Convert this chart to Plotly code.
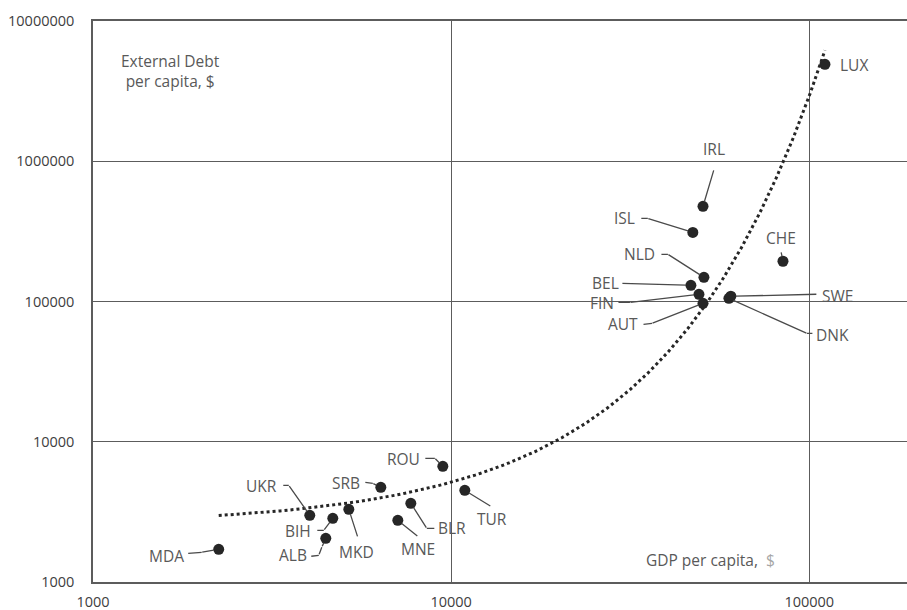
import numpy as np
import plotly.graph_objects as go

# ---------------- data ----------------
countries = ["LUX", "IRL", "ISL", "NLD", "CHE", "BEL", "FIN", "AUT", "SWE", "DNK",
             "ROU", "SRB", "UKR", "BIH", "ALB", "MKD", "MNE", "BLR", "TUR", "MDA"]
gdp_per_capita = [110600, 50500, 47300, 50800, 84450, 46720, 49200, 50500, 60400, 59650,
                  9480, 6363, 4030, 4673, 4467, 5180, 7098, 7717, 10920, 2244]
debt_per_capita = [4910000, 477000, 311000, 148800, 193600, 130500, 112500, 97000, 109000, 105300,
                   6680, 4730, 2990, 2845, 2049, 3297, 2754, 3640, 4506, 1710]

x_tick_vals = [1000, 10000, 100000]
x_tick_text = ["1000", "10000", "100000"]
y_tick_vals = [1000, 10000, 100000, 1000000, 10000000]
y_tick_text = ["1000", "10000", "100000", "1000000", "10000000"]

# ---------------- label layout (pixel offsets from the point, screen y down) ----------------
label_offset = {
    "LUX": (29, 1), "IRL": (11, -57), "ISL": (-68, -14), "NLD": (-64, -23),
    "CHE": (-2, -23), "BEL": (-85, -2), "FIN": (-97, 9), "AUT": (-80, 21),
    "SWE": (107, 0), "DNK": (104, 37), "ROU": (-39, -7), "SRB": (-35, -4),
    "UKR": (-48, -29), "BIH": (-35, 13), "ALB": (-33, 17), "MKD": (8, 43),
    "MNE": (20, 29), "BLR": (41, 25), "TUR": (27, 29), "MDA": (-52, 7),
}
leader_path = {
    "IRL": [(11, -37)], "ISL": [(-52, -14), (-45, -14)], "NLD": [(-43, -23), (-36, -23)],
    "CHE": [(-2, -10)], "BEL": [(-69, -2)], "FIN": [(-81, 8), (-69, 8)],
    "AUT": [(-60, 21), (-51, 20)], "SWE": [(86, -2)], "DNK": [(84, 35), (78, 35)],
    "ROU": [(-18, -8), (-8, -8)], "SRB": [(-16, -5), (-8, -4)],
    "UKR": [(-27, -30), (-21, -30)], "BIH": [(-16, 12), (-9, 12)],
    "ALB": [(-15, 18), (-7, 17), (-4, 9)], "MKD": [(9, 28)], "MNE": [(20, 16)],
    "BLR": [(24, 25), (16, 25)], "TUR": [(26, 16)], "MDA": [(-31, 4), (-17, 3)],
}

FONT = "Open Sans"
LABEL_COLOR = "#595959"
LINE_COLOR = "#4a4a4a"
GRID_COLOR = "#5c5c5c"

# ---------------- exponential trendline fitted to the data ----------------
gx = np.array(gdp_per_capita, dtype=float)
gy = np.array(debt_per_capita, dtype=float)
slope, intercept = np.polyfit(gx, np.log(gy), 1)
trend_x = np.linspace(gx.min(), gx.max(), 300)
trend_y = np.exp(intercept + slope * trend_x)

fig = go.Figure()
fig.add_trace(go.Scatter(x=trend_x, y=trend_y, mode="lines",
                         line=dict(color="#262626", width=3, dash="dot"),
                         hoverinfo="skip", showlegend=False))
fig.add_trace(go.Scatter(x=gdp_per_capita, y=debt_per_capita, mode="markers",
                         marker=dict(color="#262626", size=11),
                         text=countries, showlegend=False))

annotations = []
for c, xv, yv in zip(countries, gdp_per_capita, debt_per_capita):
    lx, ly = np.log10(xv), np.log10(yv)
    dx, dy = label_offset[c]
    annotations.append(dict(x=lx, y=ly, xref="x", yref="y", text=c, showarrow=False,
                            xshift=dx, yshift=-dy, xanchor="center", yanchor="middle",
                            font=dict(family=FONT, size=15.5, color=LABEL_COLOR)))
    if c in leader_path:
        verts = leader_path[c] + [(0, 0)]
        for i in range(len(verts) - 1):
            (x0, y0), (x1, y1) = verts[i], verts[i + 1]
            last = (i == len(verts) - 2)
            annotations.append(dict(x=lx, y=ly, xref="x", yref="y", text=" ",
                                    font=dict(size=1), borderpad=0,
                                    showarrow=True, arrowhead=0, arrowwidth=1.3,
                                    arrowcolor=LINE_COLOR,
                                    xshift=x1, yshift=-y1,
                                    ax=x0 - x1, ay=y0 - y1,
                                    standoff=5 if last else 0))

annotations.append(dict(x=0.0946, y=0.911, xref="paper", yref="paper",
                        text="External Debt<br>per capita, $", showarrow=False,
                        xanchor="center", yanchor="middle", align="center",
                        font=dict(family=FONT, size=15.5, color=LABEL_COLOR)))
annotations.append(dict(x=0.758, y=0.039, xref="paper", yref="paper",
                        text="GDP per capita,  <span style='color:#a6a6a6'>$</span>",
                        showarrow=False, xanchor="center", yanchor="middle",
                        font=dict(family=FONT, size=15.5, color=LABEL_COLOR)))

fig.update_layout(
    width=907, height=610,
    margin=dict(l=93, r=0, t=21, b=28),
    paper_bgcolor="white", plot_bgcolor="white",
    annotations=annotations,
    xaxis=dict(type="log", range=[3, 5.2729], tickvals=x_tick_vals, ticktext=x_tick_text,
               showgrid=True, gridcolor=GRID_COLOR, gridwidth=1.3,
               showline=True, linecolor=GRID_COLOR, linewidth=1.5, mirror=True,
               ticks="", ticklabelstandoff=6, zeroline=False,
               tickfont=dict(family=FONT, size=14.5, color="#404040")),
    yaxis=dict(type="log", range=[3, 7], tickvals=y_tick_vals, ticktext=y_tick_text,
               showgrid=True, gridcolor=GRID_COLOR, gridwidth=1.3,
               showline=True, linecolor=GRID_COLOR, linewidth=1.5,
               ticks="", ticklabelstandoff=14, zeroline=False,
               tickfont=dict(family=FONT, size=14.5, color="#404040")),
)

fig.write_html("out.html", config={"displayModeBar": False},
               post_script="document.body.style.margin='0';document.body.style.overflow='hidden';")
